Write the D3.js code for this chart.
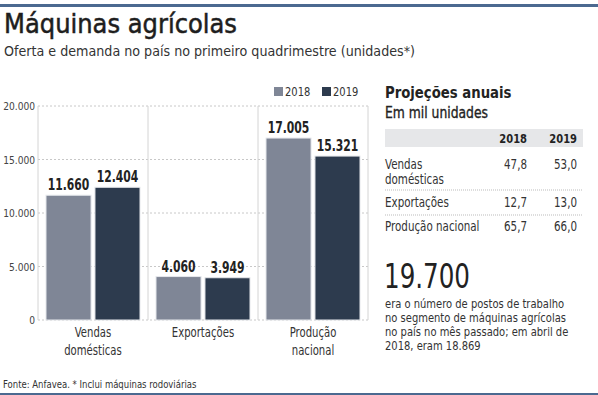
<!DOCTYPE html>
<html><head><meta charset="utf-8">
<script src="https://cdn.jsdelivr.net/npm/d3@7"></script>
<style>
body{margin:0;background:#fff;}
svg text{font-family:"DejaVu Sans Condensed","DejaVu Sans",sans-serif;}
</style></head><body>
<svg id="c" width="598" height="395"></svg>
<script>
const categories = [["Vendas","domésticas"],["Exportações"],["Produção","nacional"]];
const years = ["2018","2019"];
const values2018 = [11660, 4060, 17005];
const values2019 = [12404, 3949, 15321];
const yTicks = [0, 5000, 10000, 15000, 20000];
const tableRows = [["Vendas","domésticas"],["Exportações"],["Produção nacional"]];
const proj2018 = ["47,8","12,7","65,7"];
const proj2019 = ["53,0","13,0","66,0"];
const bigNumber = "19.700";
const bigText = ["era o número de postos de trabalho","no segmento de máquinas agrícolas","no país no mês passado;  em abril de","2018, eram 18.869"];

const colors = {"2018":"#7f8696","2019":"#2d3b4e"};
const blue = "#4b6990";
const svg = d3.select("#c");
const fmt = d3.format(",.0f");
const ptFmt = v => fmt(v).replace(/,/g,".");
function cond(sel, f){
  sel.each(function(){
    const L = this.getComputedTextLength();
    d3.select(this).attr("textLength", L*f).attr("lengthAdjust","spacingAndGlyphs");
  });
  return sel;
}

// top & bottom rules
svg.append("rect").attr("x",0).attr("y",4).attr("width",598).attr("height",3).attr("fill",blue);
svg.append("rect").attr("x",0).attr("y",393).attr("width",598).attr("height",2).attr("fill",blue);

svg.append("text").attr("x",4).attr("y",33).attr("font-size",27).attr("fill","#1e1e1e")
  .attr("stroke","#1e1e1e").attr("stroke-width",0.5)
  .attr("textLength",233).attr("lengthAdjust","spacingAndGlyphs").text("Máquinas agrícolas");
svg.append("text").attr("x",4).attr("y",56).attr("font-size",14.5).attr("fill","#333")
  .attr("textLength",411).attr("lengthAdjust","spacingAndGlyphs")
  .text("Oferta e demanda no país no primeiro quadrimestre (unidades*)");

// chart
const x0 = d3.scaleBand().domain(d3.range(categories.length)).range([38,368]);
const y = d3.scaleLinear().domain([0,20000]).range([320,106]);
const x1 = d3.scaleBand().domain(years).range([8,102]).paddingInner(0.08);

const g = svg.append("g");
g.selectAll("line.grid").data(yTicks).join("line")
  .attr("x1",38).attr("x2",368).attr("y1",d=>y(d)).attr("y2",d=>y(d))
  .attr("stroke","#c8c8c8").attr("stroke-width",1).attr("stroke-dasharray","2,2");
g.selectAll("line.sep").data(d3.range(categories.length+1)).join("line")
  .attr("x1",d=>38+d*x0.bandwidth()).attr("x2",d=>38+d*x0.bandwidth())
  .attr("y1",106).attr("y2",320).attr("stroke","#d4d4d4").attr("stroke-width",1);

const yAxis = d3.axisLeft(y).tickValues(yTicks).tickSize(0).tickPadding(3).tickFormat(ptFmt);
const ya = svg.append("g").attr("transform","translate(38,0)").call(yAxis);
ya.select(".domain").remove();
ya.selectAll("text").attr("font-size",11).attr("fill","#444")
  .style("font-family","'DejaVu Sans Condensed',sans-serif");
cond(ya.selectAll("text"),0.92);

const data = categories.map((c,i)=>({i, vals:[{k:"2018",v:values2018[i]},{k:"2019",v:values2019[i]}]}));
const grp = g.selectAll("g.cat").data(data).join("g").attr("transform",d=>`translate(${x0(d.i)},0)`);
grp.selectAll("rect").data(d=>d.vals).join("rect")
  .attr("x",d=>x1(d.k)).attr("width",x1.bandwidth())
  .attr("y",d=>y(d.v)).attr("height",d=>y(0)-y(d.v))
  .attr("fill",d=>colors[d.k]).attr("stroke","#e6e8ec").attr("stroke-width",1);
const vl = grp.selectAll("text.val").data(d=>d.vals).join("text")
  .attr("x",d=>x1(d.k)+x1.bandwidth()/2).attr("y",d=>y(d.v)-5)
  .attr("text-anchor","middle").attr("font-size",15).attr("font-weight","bold").attr("fill","#222")
  .text(d=>ptFmt(d.v));
cond(vl,0.8);

// category labels
const xAxis = d3.axisBottom(x0).tickSize(0).tickFormat(()=> "");
svg.append("g").attr("transform","translate(0,320)").call(xAxis).select(".domain").remove();
categories.forEach((c,i)=>{
  c.forEach((l,j)=>{
    const t = svg.append("text").attr("x",x0(i)+x0.bandwidth()/2).attr("y",337+j*18)
      .attr("text-anchor","middle").attr("font-size",14).attr("fill","#333").text(l);
    cond(t,0.8);
  });
});

// legend
[["2018",274],["2019",322]].forEach(([k,lx])=>{
  svg.append("rect").attr("x",lx).attr("y",87).attr("width",9).attr("height",9).attr("fill",colors[k]);
  cond(svg.append("text").attr("x",lx+11).attr("y",96).attr("font-size",13).attr("fill","#333").text(k),0.85);
});

// footer
cond(svg.append("text").attr("x",3).attr("y",388).attr("font-size",10.5).attr("fill","#333")
  .text("Fonte: Anfavea. * Inclui máquinas rodoviárias"),0.9);

// right panel
const rp = svg.append("g");
cond(rp.append("text").attr("x",385).attr("y",98).attr("font-size",16).attr("font-weight","bold").attr("fill","#222").text("Projeções anuais"),0.92);
rp.append("text").attr("x",385).attr("y",118).attr("font-size",16).attr("fill","#222").attr("stroke","#222").attr("stroke-width",0.35)
  .attr("textLength",103).attr("lengthAdjust","spacingAndGlyphs").text("Em mil unidades");
rp.append("rect").attr("x",385).attr("y",129).attr("width",198).attr("height",18).attr("fill","#e6e7e9");
cond(rp.append("text").attr("x",527).attr("y",143).attr("text-anchor","end").attr("font-size",13).attr("font-weight","bold").attr("fill","#222").text(years[0]),0.85);
cond(rp.append("text").attr("x",577).attr("y",143).attr("text-anchor","end").attr("font-size",13).attr("font-weight","bold").attr("fill","#222").text(years[1]),0.85);
const rowY = [169,207,231];
tableRows.forEach((r,i)=>{
  r.forEach((l,j)=>cond(rp.append("text").attr("x",385).attr("y",rowY[i]+j*15).attr("font-size",13.5).attr("fill","#333").text(l),0.85));
  cond(rp.append("text").attr("x",527).attr("y",rowY[i]).attr("text-anchor","end").attr("font-size",13.5).attr("fill","#333").text(proj2018[i]),0.85);
  cond(rp.append("text").attr("x",577).attr("y",rowY[i]).attr("text-anchor","end").attr("font-size",13.5).attr("fill","#333").text(proj2019[i]),0.85);
});
[190,215].forEach(yy=>rp.append("line").attr("x1",385).attr("x2",583).attr("y1",yy).attr("y2",yy)
  .attr("stroke","#bbb").attr("stroke-dasharray","1,1"));

rp.append("text").attr("x",384).attr("y",288).attr("font-size",34).attr("fill","#222")
  .attr("textLength",86).attr("lengthAdjust","spacingAndGlyphs").text(bigNumber);
bigText.forEach((l,i)=>cond(rp.append("text").attr("x",385).attr("y",307.5+i*14.3).attr("font-size",12.3).attr("fill","#333").text(l),0.9));
</script></body></html>
